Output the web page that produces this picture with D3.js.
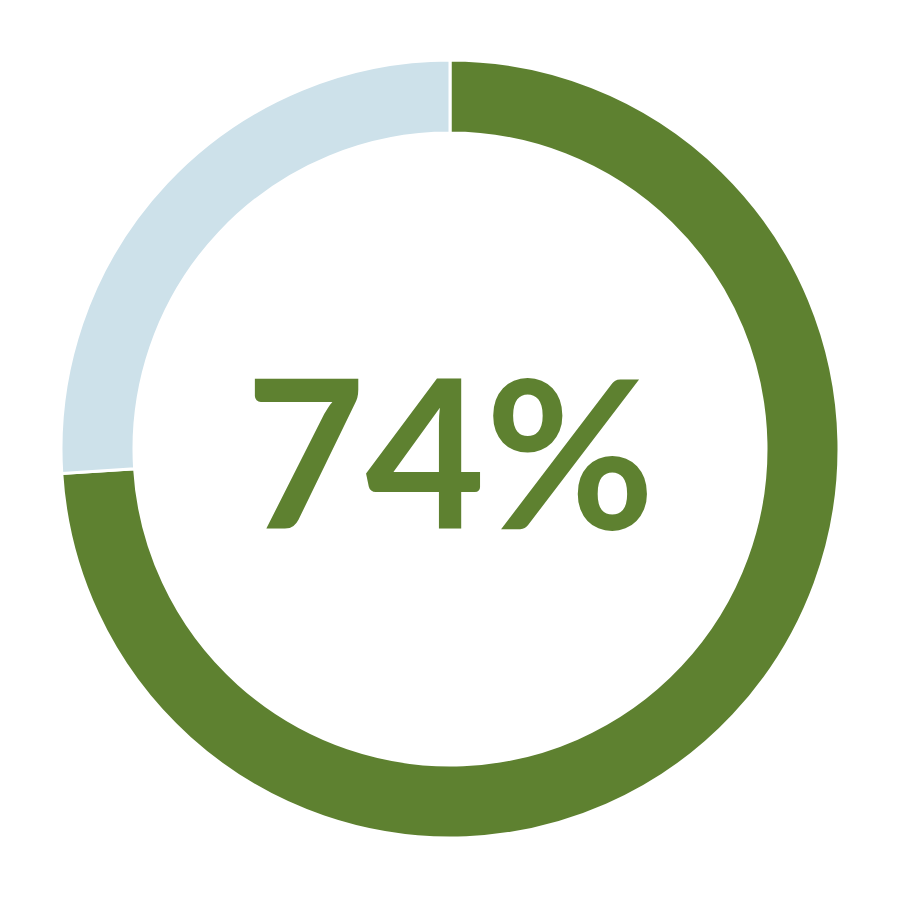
<!DOCTYPE html>
<html>
<head>
<meta charset="utf-8">
<script src="https://cdn.jsdelivr.net/npm/d3@7"></script>
<style>
  html, body { margin: 0; padding: 0; background: #fff; }
</style>
</head>
<body>
<div id="chart"></div>
<script>
const labels = ["Yes", "No"];
const values = [74, 26];
const colors = ["#5e8130", "#cde1ea"];
const centerLabel = "74%";

const w = 900;
const h = 900;
const cx = 450;
const cy = 449;
const outerR = 389;
const innerR = 316;

const svg = d3
  .select("#chart")
  .append("svg")
  .attr("width", w)
  .attr("height", h);

const g = svg.append("g").attr("transform", `translate(${cx}, ${cy})`);

const pie = d3.pie().sort(null).value((d) => d.value);
const arc = d3.arc().innerRadius(innerR).outerRadius(outerR);

const slices = pie(labels.map((l, i) => ({ label: l, value: values[i] })));

g.selectAll("path")
  .data(slices)
  .join("path")
  .attr("d", arc)
  .attr("fill", (d, i) => colors[i])
  .attr("stroke", "#fff")
  .attr("stroke-width", 3);

// big number in the middle
g.append("text")
  .attr("x", 0)
  .attr("y", 80)
  .attr("text-anchor", "middle")
  .attr("fill", colors[0])
  .style("font-family", "Lato, sans-serif")
  .style("font-weight", "bold")
  .style("font-size", "207px")
  .text(centerLabel);
</script>
</body>
</html>
